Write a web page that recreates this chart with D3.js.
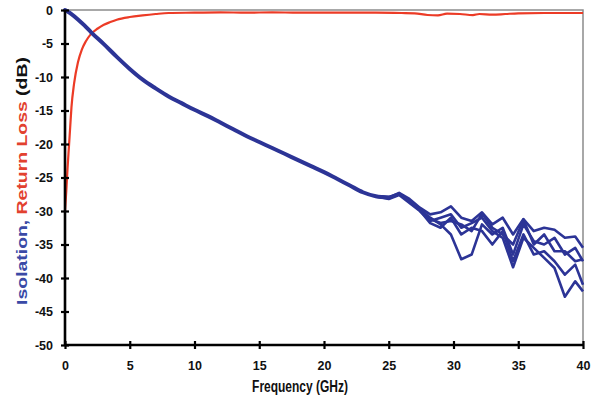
<!DOCTYPE html>
<html lang="en">
<head>
  <meta charset="UTF-8">
  <title>Isolation and Return Loss</title>
  <script src="https://d3js.org/d3.v7.min.js"></script>
  <style>
    body { margin: 0; padding: 0; background: #fff; }
    svg { display: block; font-family: Arial, "Liberation Sans", sans-serif; }
    .tick text { font-weight: bold; font-size: 12.5px; fill: #111; }
  </style>
</head>
<body>
  <svg id="chart"></svg>
  <script>
    // isolation, shared part of all ports (0-25 GHz)
    const freqBase = [0, 0.5, 1, 1.5, 2, 3, 4, 5, 6, 7, 8, 9, 10, 11, 12, 13, 14, 15, 16, 17, 18, 19, 20, 21, 22, 23, 24];
    const isoBase = [0, -0.6, -1.4, -2.3, -3.3, -5.1, -7.0, -8.8, -10.4, -11.7, -12.9, -13.9, -14.9, -15.8, -16.8, -17.8, -18.8, -19.7, -20.6, -21.5, -22.4, -23.3, -24.2, -25.2, -26.2, -27.2, -27.8];

    // isolation, individual curves above 25 GHz
    const freqTail = [25, 25.8, 26.6, 27.4, 28.2, 29, 29.8, 30.6, 31.4, 32.2, 33, 33.8, 34.6, 35.4, 36.2, 37, 37.8, 38.6, 39.4, 40];
    const isoA = [-28.0, -27.3, -28.2, -29.5, -30.5, -30.2, -29.3, -31.0, -31.5, -30.2, -32.0, -31.0, -33.5, -31.2, -33.0, -32.5, -32.8, -34.0, -33.8, -35.5];
    const isoB = [-28.0, -27.5, -28.5, -29.8, -31.0, -32.0, -33.5, -37.2, -36.5, -32.0, -33.5, -32.5, -36.5, -32.0, -34.5, -35.0, -34.0, -36.5, -35.5, -37.5];
    const isoC = [-28.2, -27.6, -28.8, -30.0, -31.5, -31.0, -30.5, -32.5, -31.8, -31.0, -33.0, -34.0, -38.4, -34.0, -35.5, -37.0, -38.5, -42.8, -40.5, -42.0];
    const isoD = [-27.9, -27.4, -28.6, -29.6, -31.2, -31.8, -31.5, -32.0, -33.0, -30.4, -32.5, -33.5, -35.0, -31.3, -35.0, -33.5, -36.0, -36.0, -37.5, -37.2];
    const isoE = [-28.1, -27.5, -28.4, -29.9, -31.8, -32.5, -31.0, -33.5, -32.5, -33.0, -35.0, -33.0, -37.5, -33.5, -36.5, -36.0, -37.5, -39.5, -38.0, -41.0];

    // return loss
    const freqRL = [0, 0.1, 0.2, 0.3, 0.4, 0.5, 0.7, 1, 1.3, 1.6, 2, 2.5, 3, 3.5, 4, 5, 6, 7, 8, 10, 12, 14, 16, 18, 20, 22, 24, 26, 27, 28, 28.8, 29.5, 30.5, 31.5, 32, 33, 34, 35, 37, 40];
    const returnLoss = [-30, -27, -23.5, -20.5, -17.5, -14.5, -11, -7.8, -5.9, -4.7, -3.6, -2.8, -2.2, -1.8, -1.45, -1.05, -0.8, -0.6, -0.45, -0.4, -0.35, -0.4, -0.35, -0.4, -0.38, -0.4, -0.4, -0.45, -0.5, -0.75, -0.8, -0.55, -0.6, -0.75, -0.6, -0.7, -0.6, -0.5, -0.45, -0.45];

    const xTicks = [0, 5, 10, 15, 20, 25, 30, 35, 40];
    const yTicks = [0, -5, -10, -15, -20, -25, -30, -35, -40, -45, -50];

    const width = 599;
    const height = 401;
    const margin = { top: 10, right: 16, bottom: 56, left: 65 };

    const blue = "#2c3496";
    const red = "#ec3b26";

    const svg = d3.select("#chart")
      .attr("width", width)
      .attr("height", height);

    const x = d3.scaleLinear().domain([0, 40]).range([margin.left, width - margin.right]);
    const y = d3.scaleLinear().domain([-50, 0]).range([height - margin.bottom, margin.top]);

    // top and right frame
    svg.append("path")
      .attr("fill", "none")
      .attr("stroke", "#8c8c8c")
      .attr("stroke-width", 1.5)
      .attr("d", `M${x(0)},${y(0)}H${x(40)}V${y(-50)}`);

    const toPoints = (fs, vs) => fs.map((f, i) => [f, vs[i]]);

    const line = d3.line().x(d => x(d[0])).y(d => y(d[1]));
    const smooth = d3.line().x(d => x(d[0])).y(d => y(d[1])).curve(d3.curveMonotoneX);

    // return loss
    svg.append("path")
      .attr("fill", "none")
      .attr("stroke", red)
      .attr("stroke-width", 2.2)
      .attr("d", smooth(toPoints(freqRL, returnLoss)));

    // isolation
    const tails = [isoA, isoB, isoC, isoD, isoE];
    const basePts = toPoints(freqBase, isoBase);
    svg.append("g")
      .selectAll("path")
      .data(tails)
      .join("path")
      .attr("fill", "none")
      .attr("stroke", blue)
      .attr("stroke-width", 2.6)
      .attr("stroke-linejoin", "round")
      .attr("d", t => line(basePts.slice(-1).concat(toPoints(freqTail, t))));

    svg.append("path")
      .attr("fill", "none")
      .attr("stroke", blue)
      .attr("stroke-width", 4)
      .attr("stroke-linecap", "round")
      .attr("d", smooth(basePts.concat([[freqTail[0], isoA[0]]])));

    // axes
    const xAxis = svg.append("g")
      .attr("transform", `translate(0,${y(-50)})`)
      .call(d3.axisBottom(x).tickValues(xTicks).tickSize(4).tickPadding(12).tickFormat(d3.format("d")));
    xAxis.select(".domain").attr("stroke", "#000").attr("stroke-width", 2.6).attr("d", `M${x(0)},0H${x(40)}`);
    xAxis.selectAll(".tick line").attr("stroke", "#000").attr("stroke-width", 2.2).attr("y1", -4).attr("y2", 4);

    const yAxis = svg.append("g")
      .attr("transform", `translate(${x(0)},0)`)
      .call(d3.axisLeft(y).tickValues(yTicks).tickSize(4).tickPadding(8).tickFormat(d3.format("d")));
    yAxis.select(".domain").attr("stroke", "#000").attr("stroke-width", 2.6).attr("d", `M0,${y(0)}V${y(-50)}`);
    yAxis.selectAll(".tick line").attr("stroke", "#000").attr("stroke-width", 2.2).attr("x1", -4).attr("x2", 4);
    yAxis.selectAll(".tick text").text(d => d === 0 ? "0" : "-" + Math.abs(d));

    // axis titles
    const xTitle = svg.append("text")
      .attr("font-weight", "bold")
      .attr("font-size", 16.5)
      .attr("text-anchor", "middle")
      .attr("fill", "#111")
      .text("Frequency (GHz)");
    const xw = xTitle.node().getComputedTextLength();
    xTitle.attr("transform", `translate(300,392) scale(${96 / xw},1)`);

    const yTitle = svg.append("text")
      .attr("font-weight", "bold")
      .attr("font-size", 15)
      .attr("text-anchor", "middle");
    yTitle.append("tspan").attr("fill", "#3a4aa6").text("Isolation, ");
    yTitle.append("tspan").attr("fill", "#e2412f").text("Return Loss ");
    yTitle.append("tspan").attr("fill", "#111").text("(dB)");
    const yw = yTitle.node().getComputedTextLength();
    yTitle.attr("transform", `translate(27,181) rotate(-90) scale(${248 / yw},1)`);
  </script>
</body>
</html>
